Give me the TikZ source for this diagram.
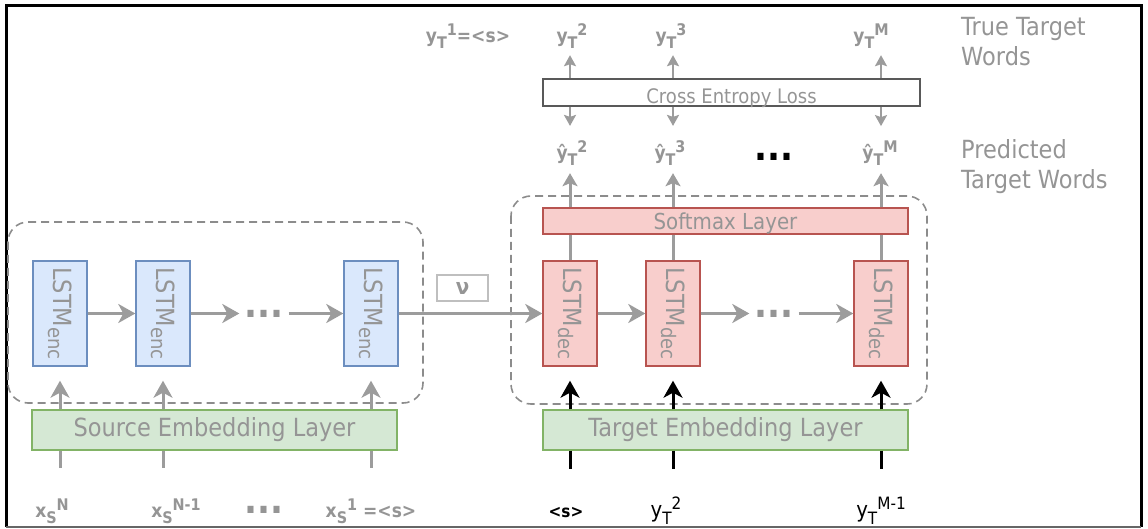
\documentclass[tikz,border=0pt]{standalone}
\usepackage{fontspec}
\setmainfont[FakeStretch=0.9]{DejaVu Sans}
\usetikzlibrary{arrows.meta}

\definecolor{txtgray}{HTML}{959595}
\definecolor{arrgray}{HTML}{9C9C9C}
\definecolor{grpgray}{HTML}{8C8C8C}
\definecolor{encfill}{HTML}{DAE8FC}
\definecolor{encline}{HTML}{6C8EBF}
\definecolor{decfill}{HTML}{F8CECC}
\definecolor{decline}{HTML}{B85450}
\definecolor{embfill}{HTML}{D5E8D4}
\definecolor{embline}{HTML}{82B366}

\newcommand{\lstm}[1]{\rotatebox{-90}{LSTM\raisebox{-5pt}{\fontsize{20}{20}\selectfont #1}}}
\newcommand{\wsc}[2]{{\fontsize{16}{16}\selectfont\raisebox{-6pt}{#1}\raisebox{7pt}{#2}}}
\newcommand{\wscl}[2]{{\fontsize{17}{17}\selectfont\raisebox{-7pt}{#1}\raisebox{8pt}{#2}}}

\begin{document}
\begin{tikzpicture}[x=1pt, y=-1pt,
  every node/.style={text=txtgray},
  lstmbox/.style={draw, line width=1.4pt, minimum width=54pt, minimum height=105pt, inner sep=0pt, font=\fontsize{25}{25}\selectfont},
  enc/.style={lstmbox, draw=encline, fill=encfill},
  dec/.style={lstmbox, draw=decline, fill=decfill},
  layerbox/.style={draw, line width=1.4pt, minimum width=365pt, inner sep=0pt},
  emb/.style={layerbox, draw=embline, fill=embfill, minimum height=40pt, font=\fontsize{25}{25}\selectfont},
  soft/.style={layerbox, draw=decline, fill=decfill, minimum height=26pt, font=\fontsize{22}{22}\selectfont},
  tok/.style={anchor=base, inner sep=2pt, font=\bfseries\fontsize{19}{19}\selectfont},
  ellip/.style={inner sep=5pt, font=\bfseries\fontsize{38}{38}\selectfont},
  grp/.style={draw=grpgray, line width=1.6pt, dash pattern=on 8pt off 5pt, rounded corners=20pt},
  garr/.style={draw=arrgray, line width=3pt, -{Stealth[length=17pt, width=19pt, inset=5pt]}},
  gline/.style={draw=arrgray, line width=3pt},
  barr/.style={draw=black, line width=3pt, -{Stealth[length=17pt, width=19pt, inset=5pt]}},
  bline/.style={draw=black, line width=3pt},
  marr/.style={draw=arrgray, line width=3pt, -{Stealth[length=13pt, width=15pt, inset=3pt]}},
  sarr/.style={draw=arrgray, line width=2.2pt, -{Stealth[length=11pt, width=12pt, inset=2pt]}},
]
  \useasboundingbox (0,0) rectangle (1148,529);
  \draw[line width=3pt] (6,527) -- (6,6) -- (1141,6) -- (1141,527);
  \draw[black!60, line width=1.4pt] (6,527) -- (1141,527);

  \draw[grp] (8,222) rectangle (423,403);
  \draw[grp] (511,196) rectangle (927,404);

  \foreach \i/\x in {1/60, 2/163, 3/371} {
    \node[enc] (e\i) at (\x,313.5) {\lstm{enc}};
    \coordinate (xin\i) at (\x,468);
  }
  \foreach \i/\x in {1/570, 2/673, 3/881} {
    \node[dec] (d\i) at (\x,313.5) {\lstm{dec}};
    \coordinate (yin\i) at (\x,469);
  }

  \node[emb] (src) at (214.5,430) {Source Embedding Layer};
  \node[emb] (tgt) at (725.5,430) {Target Embedding Layer};
  \node[soft] (soft) at (725.5,221) {\raisebox{-9pt}[0pt][0pt]{Softmax Layer}};
  \node[draw=black!65, line width=1.6pt, minimum width=377pt, minimum height=27pt, inner sep=0pt,
    font=\fontsize{20}{20}\selectfont] (loss) at (731.5,92.5) {\raisebox{-11pt}[0pt][0pt]{Cross Entropy Loss}};
  \node[draw=black!25, line width=1.4pt, minimum width=51pt, minimum height=26pt, inner sep=0pt,
    font=\bfseries\fontsize{22}{22}\selectfont] (vec) at (462.5,288) {\raisebox{-3pt}{ν}};

  \node[ellip] (edots) at (264,313.5) {...};
  \node[ellip] (ddots) at (774,313.5) {...};
  \node[ellip] (xdots) at (264,510) {...};
  \node[ellip, text=black] (ydots) at (774,157) {...};

  \draw[garr] (e1) -- (e2);
  \draw[garr] (e2) -- (edots);
  \draw[garr] (edots) -- (e3);
  \draw[garr] (e3) -- (d1);
  \draw[garr] (d1) -- (d2);
  \draw[garr] (d2) -- (ddots);
  \draw[garr] (ddots) -- (d3);

  \node[tok] (yt1) at (468,43) {y\wsc{T}{1}=<s>};
  \node[tok] (yt2) at (572,43) {y\wsc{T}{2}};
  \node[tok] (yt3) at (671,43) {y\wsc{T}{3}};
  \node[tok] (yt4) at (871,43) {y\wsc{T}{M}};
  \node[tok] (yp2) at (572,160) {ŷ\wsc{T}{2}};
  \node[tok] (yp3) at (670,160) {ŷ\wsc{T}{3}};
  \node[tok] (yp4) at (880,160) {ŷ\wsc{T}{M}};

  \node[tok] (xi1) at (52,517) {x\wsc{S}{N}};
  \node[tok] (xi2) at (176,517) {x\wsc{S}{N-1}};
  \node[tok] (xi3) at (371,517) {x\wsc{S}{1} =<s>};
  \node[tok, text=black, font=\bfseries\fontsize{17}{17}\selectfont] (yi1) at (566,517) {<s>};
  \node[tok, text=black, font=\fontsize{22}{22}\selectfont] (yi2) at (666,517) {y\wscl{T}{2}};
  \node[tok, text=black, font=\fontsize{22}{22}\selectfont] (yi3) at (881,517) {y\wscl{T}{M-1}};

  \node[anchor=north west, align=left, inner sep=0pt, font=\fontsize{25}{30}\selectfont] (truew) at (961,17) {True Target\\Words};
  \node[anchor=north west, align=left, inner sep=0pt, font=\fontsize{25}{30}\selectfont] (predw) at (961,139) {Predicted\\Target Words};

  \foreach \i in {1,2,3} {
    \draw[garr, shorten >=14pt] (src.north -| e\i) -- (e\i.south);
    \draw[gline] (src.south -| e\i) -- (xin\i);
    \draw[barr, shorten >=14pt] (tgt.north -| d\i) -- (d\i.south);
    \draw[bline] (tgt.south -| d\i) -- (yin\i);
    \draw[gline] (d\i.north) -- (soft.south -| d\i);
  }
  \foreach \i/\t/\p in {1/yt2/yp2, 2/yt3/yp3, 3/yt4/yp4} {
    \draw[marr, shorten >=5pt] (soft.north -| d\i) -- (\p.south -| d\i);
    \draw[sarr, shorten >=13pt] (loss.south -| d\i) -- (\p.north -| d\i);
    \draw[sarr, shorten >=4pt] (loss.north -| d\i) -- (\t.south -| d\i);
  }
\end{tikzpicture}
\end{document}
